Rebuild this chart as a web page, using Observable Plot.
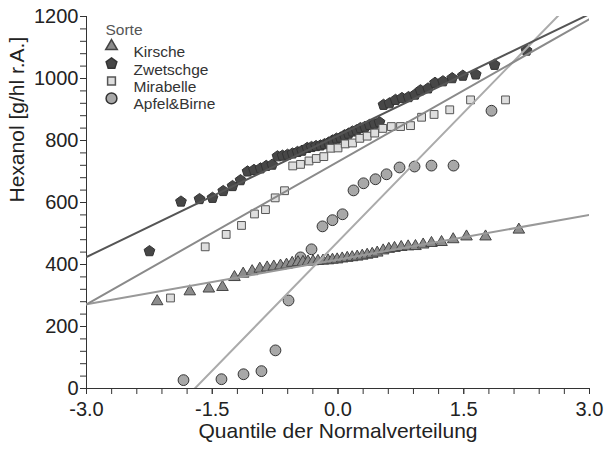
<!DOCTYPE html>
<html>
<head>
<meta charset="utf-8">
<script src="https://cdn.jsdelivr.net/npm/d3@7"></script>
<script src="https://cdn.jsdelivr.net/npm/@observablehq/plot@0.6"></script>
<style>
  html, body { margin: 0; padding: 0; background: #fff; }
  #chart svg { font-family: "Liberation Sans", Arial, sans-serif; }
</style>
</head>
<body>
<div id="chart"></div>
<script>
// ---- Data ----
const series = ["Kirsche", "Zwetschge", "Mirabelle", "Apfel&Birne"];

const kirscheX = [-2.157,-1.768,-1.541,-1.378,-1.235,-1.131,-1.024,-0.933,-0.845,-0.766,-0.686,-0.614,-0.546,-0.477,-0.418,-0.358,-0.298,-0.239,-0.179,-0.119,-0.066,-0.010,0.050,0.110,0.169,0.229,0.289,0.348,0.408,0.468,0.539,0.606,0.674,0.754,0.837,0.924,1.016,1.115,1.235,1.374,1.533,1.760,2.157];
const kirscheY = [281,313,322,327,359,370,378,386,390,393,396,399,405,407,408,409,410,411,412,413,415,416,419,421,423,425,428,431,434,438,445,450,453,456,458,459,464,469,472,481,490,490,512];

const zwetschgeX = [-2.249,-1.873,-1.652,-1.497,-1.369,-1.258,-1.163,-1.079,-1.002,-0.924,-0.856,-0.785,-0.722,-0.662,-0.602,-0.543,-0.483,-0.429,-0.367,-0.316,-0.262,-0.209,-0.161,-0.113,-0.066,-0.018,0.030,0.078,0.125,0.173,0.221,0.268,0.322,0.376,0.435,0.495,0.543,0.614,0.686,0.763,0.841,0.918,0.984,1.074,1.157,1.252,1.362,1.489,1.643,1.867,2.249];
const zwetschgeY = [443,603,611,615,637,653,672,700,705,710,718,722,749,751,754,758,763,767,776,779,782,784,788,793,800,806,809,817,822,829,833,840,844,850,854,859,915,920,931,937,940,948,962,968,986,991,1001,1009,1013,1044,1090];

const mirabelleX = [-1.998,-1.584,-1.334,-1.151,-0.996,-0.865,-0.749,-0.638,-0.540,-0.447,-0.346,-0.259,-0.169,-0.086,0.000,0.086,0.173,0.260,0.348,0.438,0.534,0.636,0.746,0.865,0.997,1.146,1.333,1.581,1.998];
const mirabelleY = [292,457,497,526,563,577,615,638,718,723,734,742,748,775,776,789,792,807,814,824,839,845,845,848,875,884,899,931,931];

const apfelX = [-1.843,-1.390,-1.127,-0.913,-0.746,-0.590,-0.447,-0.316,-0.185,-0.066,0.054,0.185,0.304,0.447,0.579,0.734,0.913,1.115,1.378,1.831];
const apfelY = [27,30,46,56,123,284,423,449,523,543,562,639,662,675,691,713,716,719,719,896];

// reference lines (intercept at x = 0, slope per unit quantile)
const lineIntercept = [415.8, 816, 731.7, 473.8];
const lineSlope = [48.1, 130.6, 153.4, 277.4];

const xDomain = [-3, 3];
const yDomain = [0, 1200];
const xTickValues = [-3, -1.5, 0, 1.5, 3];
const xTickLabels = ["-3.0", "-1.5", "0.0", "1.5", "3.0"];
const yTickLabels = [0, 200, 400, 600, 800, 1000, 1200];

const xTitle = "Quantile der Normalverteilung";
const yTitle = "Hexanol [g/hl r.A.]";
const legendTitle = "Sorte";

// ---- Styles ----
const pentagon = {
  draw(ctx, size) {
    const R = Math.sqrt(size / 2.3776);
    for (let i = 0; i < 5; i++) {
      const a = -Math.PI / 2 + i * 2 * Math.PI / 5;
      const px = R * Math.cos(a), py = R * Math.sin(a);
      if (i === 0) ctx.moveTo(px, py); else ctx.lineTo(px, py);
    }
    ctx.closePath();
  }
};
const styles = [
  {symbol: "triangle", r: 4.3, fill: "#8c8c8c", stroke: "#444", line: "#999"},
  {symbol: pentagon, r: 4.9, fill: "#474747", stroke: "#333", line: "#555"},
  {symbol: "square", r: 4.4, fill: "#dedede", stroke: "#555", line: "#8a8a8a"},
  {symbol: "circle", r: 5.4, fill: "#a8a8a8", stroke: "#333", line: "#ababab"}
];

const pts = [
  kirscheX.map((x, i) => ({x, y: kirscheY[i]})),
  zwetschgeX.map((x, i) => ({x, y: zwetschgeY[i]})),
  mirabelleX.map((x, i) => ({x, y: mirabelleY[i]})),
  apfelX.map((x, i) => ({x, y: apfelY[i]}))
];
const lines = series.map((s, k) => xDomain.map(x => ({x, y: lineIntercept[k] + lineSlope[k] * x})));

const marks = [];
// axes
marks.push(Plot.axisX({ticks: d3.range(-10, 11).map(k => k * 0.3), tickFormat: () => "", tickSize: 6, stroke: "#333", label: null}));
marks.push(Plot.axisX({ticks: xTickValues, tickFormat: d => xTickLabels[xTickValues.indexOf(d)], tickSize: 6, tickPadding: 7, fontSize: 20, fill: "#222", stroke: "#333", label: null}));
marks.push(Plot.axisY({ticks: d3.range(0, 1201, 40), tickFormat: d => yTickLabels.includes(d) ? String(d) : "", tickSize: 6, tickPadding: 2, fontSize: 20, fill: "#222", stroke: "#333", label: null}));
marks.push(Plot.ruleX([xDomain[0]], {stroke: "#333", strokeWidth: 1}));
marks.push(Plot.ruleY([yDomain[0]], {stroke: "#333", strokeWidth: 1}));
// points
[1, 2, 3, 0].forEach(k => {
  const st = styles[k];
  marks.push(Plot.dot(pts[k], {x: "x", y: "y", symbol: st.symbol, r: st.r, fill: st.fill, stroke: st.stroke, strokeWidth: 1}));
});
// lines
[0, 3, 2, 1].forEach(k => {
  marks.push(Plot.line(lines[k], {x: "x", y: "y", stroke: styles[k].line, strokeWidth: 2, clip: true}));
});
// titles
marks.push(Plot.text([xTitle], {text: d => d, frameAnchor: "bottom", dy: 49, fontSize: 21, fill: "#222"}));
marks.push(Plot.text([yTitle], {text: d => d, frameAnchor: "left", dx: -69, rotate: -90, fontSize: 21, fill: "#222"}));
// legend
marks.push(Plot.text([legendTitle], {text: d => d, frameAnchor: "top-left", dx: 19, dy: 7, textAnchor: "start", fontSize: 15.5, fill: "#555"}));
series.forEach((s, k) => {
  const st = styles[k];
  marks.push(Plot.dot([s], {frameAnchor: "top-left", dx: 25, dy: 29.7 + 17.4 * k, symbol: st.symbol, r: st.r, fill: st.fill, stroke: st.stroke}));
  marks.push(Plot.text([s], {text: d => d, frameAnchor: "top-left", dx: 47, dy: 29.7 + 17.4 * k, textAnchor: "start", fontSize: 15.5, fill: "#333"}));
});

const chart = Plot.plot({
  width: 605,
  height: 451,
  marginLeft: 86,
  marginRight: 16,
  marginTop: 16,
  marginBottom: 63,
  style: {fontFamily: "Liberation Sans, Arial, sans-serif", background: "#fff"},
  x: {domain: xDomain},
  y: {domain: yDomain},
  marks
});
document.getElementById("chart").appendChild(chart);
</script>
</body>
</html>
